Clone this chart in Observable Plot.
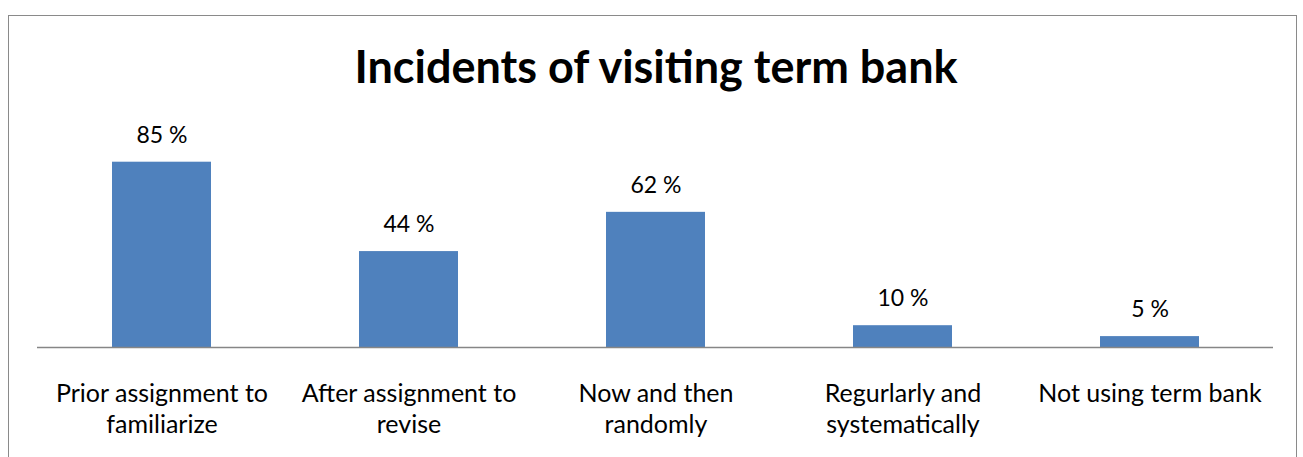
<!DOCTYPE html>
<html>
<head>
<meta charset="utf-8">
<script src="https://cdn.jsdelivr.net/npm/d3@7"></script>
<script src="https://cdn.jsdelivr.net/npm/@observablehq/plot@0.6"></script>
<style>
  html, body { margin: 0; padding: 0; background: #fff; }
  #wrap { position: relative; width: 1303px; height: 457px; overflow: hidden; font-family: Lato, "Open Sans", sans-serif; }
  #frame { position: absolute; left: 8px; top: 15px; width: 1289px; height: 460px; border: 1.5px solid #8a8a8a; box-sizing: border-box; }
  #title { position: absolute; left: 0; width: 1312px; top: 38px; text-align: center; font-size: 45px; font-weight: bold; color: #000; line-height: 56px; }
  #chart { position: absolute; left: 0; top: 0; }
</style>
</head>
<body>
<div id="wrap">
  <div id="frame"></div>
  <div id="title">Incidents of visiting term bank</div>
  <div id="chart"></div>
</div>
<script>
const categories = [
  "Prior assignment to familiarize",
  "After assignment to revise",
  "Now and then randomly",
  "Regurlarly and systematically",
  "Not using term bank"
];
const values = [85, 44, 62, 10, 5];
const tickLabels = [
  "Prior assignment to\nfamiliarize",
  "After assignment to\nrevise",
  "Now and then\nrandomly",
  "Regurlarly and\nsystematically",
  "Not using term bank"
];
const valueLabels = ["85 %", "44 %", "62 %", "10 %", "5 %"];

const data = categories.map((c, i) => ({category: c, value: values[i], label: valueLabels[i]}));
const tickMap = new Map(categories.map((c, i) => [c, tickLabels[i]]));

const chart = Plot.plot({
  width: 1303,
  height: 457,
  marginLeft: 37,
  marginRight: 30,
  marginTop: 129,
  marginBottom: 110,
  style: {fontFamily: "Lato, 'Open Sans', sans-serif", background: "transparent", overflow: "visible"},
  x: {domain: categories, paddingInner: 0.6, paddingOuter: 0.3, axis: null},
  y: {domain: [0, 100], axis: null},
  marks: [
    Plot.barY(data, {x: "category", y: "value", fill: "#4f81bd"}),
    Plot.ruleY([0], {stroke: "#868686", strokeWidth: 1.5}),
    Plot.text(data, {x: "category", y: "value", text: "label", dy: -27, fontSize: 23, fill: "#000", lineAnchor: "middle"}),
    Plot.axisX({tickSize: 0, tickPadding: 32, fontSize: 25, lineHeight: 1.26, tickFormat: d => tickMap.get(d), color: "#000", label: null, lineAnchor: "top"})
  ]
});
document.getElementById("chart").appendChild(chart);
</script>
</body>
</html>
